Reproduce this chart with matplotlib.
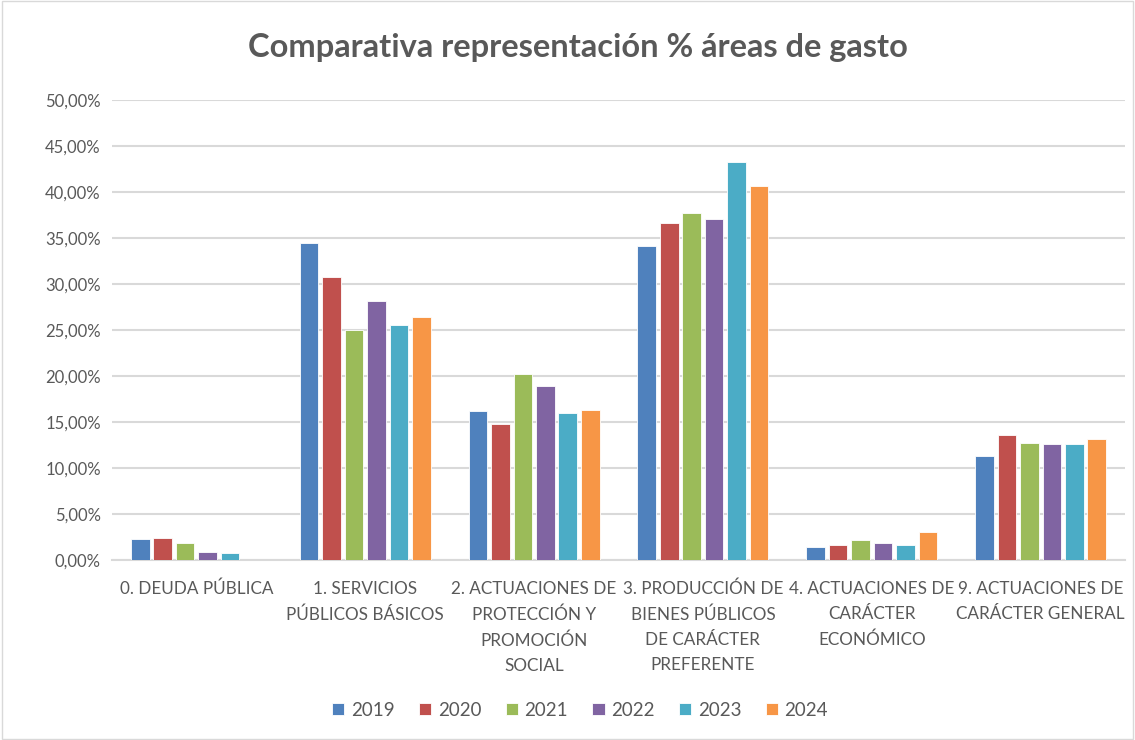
import numpy as np
import matplotlib.pyplot as plt
from matplotlib.patches import Rectangle

# --- Data ---
categories = [
    "0. DEUDA PÚBLICA",
    "1. SERVICIOS\nPÚBLICOS BÁSICOS",
    "2. ACTUACIONES DE\nPROTECCIÓN Y\nPROMOCIÓN\nSOCIAL",
    "3. PRODUCCIÓN DE\nBIENES PÚBLICOS\nDE CARÁCTER\nPREFERENTE",
    "4. ACTUACIONES DE\nCARÁCTER\nECONÓMICO",
    "9. ACTUACIONES DE\nCARÁCTER GENERAL",
]
years = ["2019", "2020", "2021", "2022", "2023", "2024"]
v2019 = [2.28, 34.45, 16.2, 34.1, 1.38, 11.3]
v2020 = [2.39, 30.76, 14.8, 36.6, 1.63, 13.55]
v2021 = [1.80, 24.96, 20.25, 37.7, 2.14, 12.75]
v2022 = [0.90, 28.10, 18.95, 37.1, 1.85, 12.6]
v2023 = [0.80, 25.50, 15.93, 43.3, 1.63, 12.6]
v2024 = [0.00, 26.45, 16.3, 40.7, 3.04, 13.1]
series = [v2019, v2020, v2021, v2022, v2023, v2024]
colors = ["#4f81bd", "#c0504d", "#9bbb59", "#8064a2", "#4bacc6", "#f79646"]
yticks = [0, 5, 10, 15, 20, 25, 30, 35, 40, 45, 50]
ytick_labels = ["0,00%", "5,00%", "10,00%", "15,00%", "20,00%", "25,00%",
                "30,00%", "35,00%", "40,00%", "45,00%", "50,00%"]

plt.rcParams['font.family'] = ['Lato', 'DejaVu Sans']
grey = "#595959"

fig = plt.figure(figsize=(11.35, 7.4), dpi=100)
ax = fig.add_axes([112 / 1135, 1 - 560 / 740, 1013 / 1135, 460 / 740])

x = np.arange(len(categories))
stride = 0.133
for i, (vals, c) in enumerate(zip(series, colors)):
    ax.bar(x + (i - 2.5) * stride, vals, width=0.11, color=c,
           edgecolor="white", linewidth=0.6, label=years[i], zorder=3)

ax.set_xlim(-0.5, len(categories) - 0.5)
ax.set_ylim(0, 50)
ax.set_yticks(yticks)
ax.set_yticklabels(ytick_labels, color=grey, fontsize=12)
ax.set_xticks(x)
ax.set_xticklabels(categories, color=grey, fontsize=12.3, linespacing=1.7, va="top")
ax.tick_params(axis="both", length=0, pad=8)
ax.tick_params(axis="x", pad=15)
ax.yaxis.grid(True, color="#d9d9d9", linewidth=1.5, zorder=0)
for s in ["top", "right", "left"]:
    ax.spines[s].set_visible(False)
ax.spines["bottom"].set_color("#d9d9d9")
ax.spines["bottom"].set_linewidth(1.5)

fig.text(578 / 1135, 1 - 48 / 740, "Comparativa representación % áreas de gasto",
         ha="center", va="center", fontsize=23.5, fontweight="bold", color=grey)

leg = fig.legend(loc="center", bbox_to_anchor=(580 / 1135, 1 - 710 / 740), ncol=6,
                 frameon=False, fontsize=13.5, handlelength=0.65, handleheight=0.65,
                 handletextpad=0.35, columnspacing=1.3)
for t in leg.get_texts():
    t.set_color(grey)

fig.patches.append(Rectangle((0.002, 0.002), 0.996, 0.996, transform=fig.transFigure,
                             fill=False, edgecolor="#d9d9d9", linewidth=1))

fig.savefig("out.png", dpi=100)
